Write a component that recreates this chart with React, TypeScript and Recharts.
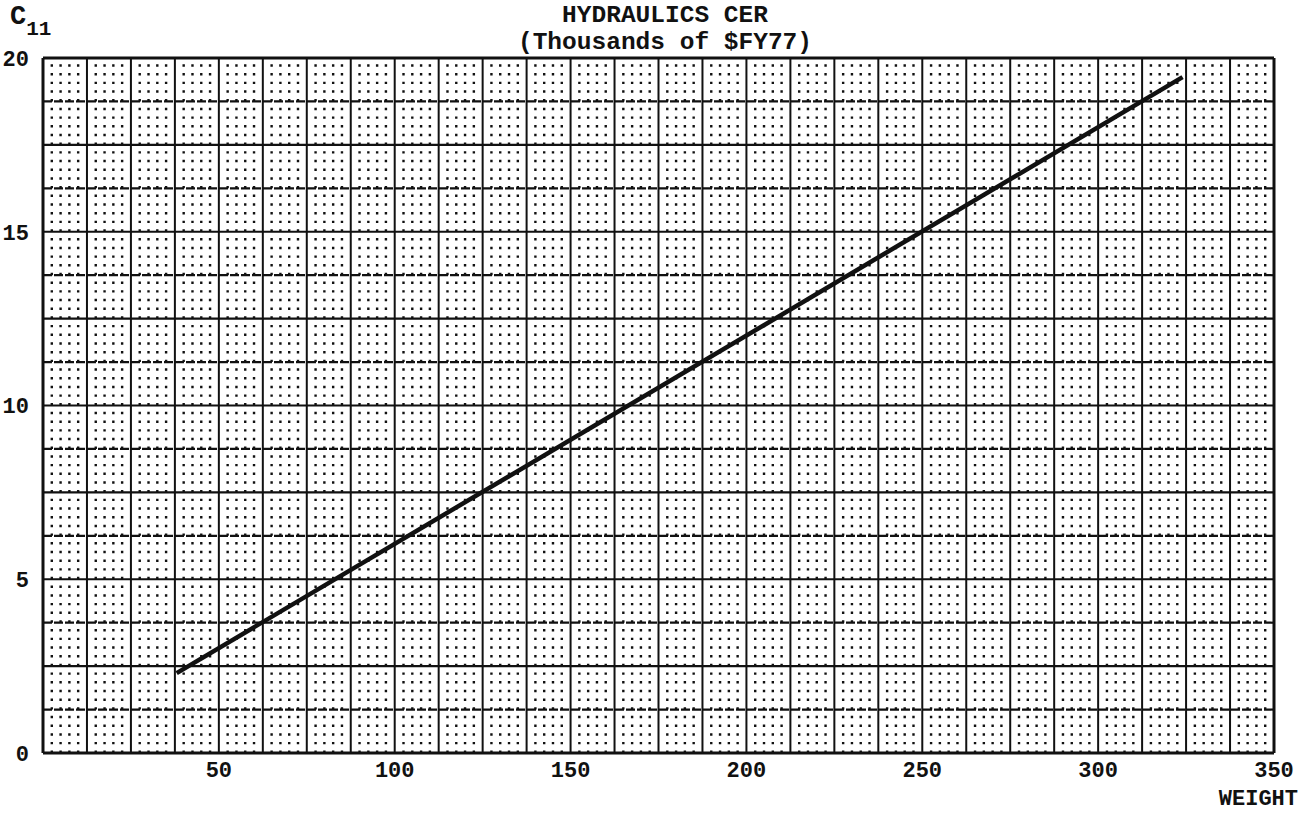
import React from 'react';
import { LineChart, Line, XAxis, YAxis, ReferenceLine } from 'recharts';

// hydraulics cost estimating relationship, thousands of $FY77 vs weight
const weight = [38, 324];
const cost = [2.3, 19.45];
const xTicks = [50, 100, 150, 200, 250, 300, 350];
const yTicks = [0, 5, 10, 15, 20];

const data = weight.map((w, i) => ({ weight: w, cost: cost[i] }));

const font = '"Liberation Mono", "DejaVu Sans Mono", monospace';
const ink = '#111';

// graph paper: heavy lines every 12.5 x 1.25, dots every 2.5 x 0.25
const majorX: number[] = [];
for (let v = 0; v <= 350; v += 12.5) majorX.push(v);
const majorY: number[] = [];
for (let v = 0; v <= 20; v += 1.25) majorY.push(v);
const minorX: number[] = [];
for (let i = 1; i < 140; i++) if (i % 5 !== 0) minorX.push(i * 2.5);

const W = 1306;
const H = 813;
const dotGap = 695 / 80 - 2.4;

export default function App() {
  return (
    <div style={{ position: 'absolute', left: 0, top: 0, width: W, height: H, background: '#fff', fontFamily: font, color: ink }}>
      <div style={{ position: 'absolute', left: 0, width: W, top: 2, textAlign: 'center', fontSize: 24.5, fontWeight: 'bold', lineHeight: '27px', paddingLeft: 12 }}>
        <div>HYDRAULICS CER</div>
        <div>(Thousands of $FY77)</div>
      </div>
      <div style={{ position: 'absolute', left: 10, top: 2, fontSize: 27, fontWeight: 'bold' }}>
        C<span style={{ fontSize: 21, position: 'relative', top: 11 }}>11</span>
      </div>
      <div style={{ position: 'absolute', right: 8, top: 789, fontSize: 22, lineHeight: '22px', fontWeight: 'bold' }}>WEIGHT</div>
      <LineChart width={W} height={H} data={data} margin={{ top: 58, left: 0, right: 32, bottom: 0 }}>
        <XAxis
          type="number"
          dataKey="weight"
          domain={[0, 350]}
          ticks={xTicks}
          height={60}
          axisLine={false}
          tickLine={false}
          tickMargin={2}
          tick={{ fill: ink, fontSize: 22, fontFamily: font, fontWeight: 'bold' }}
        />
        <YAxis
          type="number"
          domain={[0, 20]}
          ticks={yTicks}
          width={43}
          axisLine={false}
          tickLine={false}
          tickMargin={8}
          tick={{ fill: ink, fontSize: 22, fontFamily: font, fontWeight: 'bold' }}
        />
        {minorX.map((v) => (
          <ReferenceLine key={`d${v}`} x={v} stroke={ink} strokeWidth={2.4} strokeDasharray={`2.4 ${dotGap}`} />
        ))}
        {majorY.map((v, i) => (
          <ReferenceLine
            key={`h${v}`}
            y={v}
            stroke={ink}
            strokeWidth={v === 0 || v === 20 ? 3 : 2.2}
            strokeDasharray={i % 2 === 1 ? '9 2' : undefined}
          />
        ))}
        {majorX.map((v) => (
          <ReferenceLine key={`v${v}`} x={v} stroke={ink} strokeWidth={v === 0 || v === 350 ? 3 : 2} />
        ))}
        <Line
          type="linear"
          dataKey="cost"
          stroke={ink}
          strokeWidth={4.5}
          dot={false}
          isAnimationActive={false}
        />
      </LineChart>
    </div>
  );
}
